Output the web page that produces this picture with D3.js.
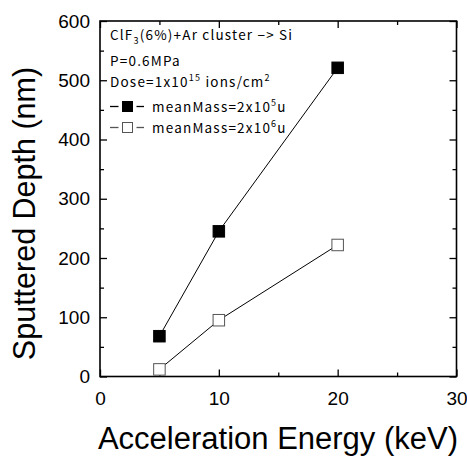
<!DOCTYPE html>
<html><head><meta charset="utf-8">
<script src="https://cdn.jsdelivr.net/npm/d3@7"></script>
<style>
body{margin:0;background:#fff;}
svg{display:block;}
</style></head>
<body>
<svg id="chart" width="467" height="456"></svg>
<script>
const energy = [5, 10, 20];
const depthMass2e5 = [68, 245, 521];
const depthMass2e6 = [12, 95, 222];
const xMajorTicks = [0, 10, 20, 30];
const xMinorTicks = [5, 15, 25];
const yMajorTicks = [0, 100, 200, 300, 400, 500, 600];
const yMinorTicks = [50, 150, 250, 350, 450, 550];

const svg = d3.select("#chart");
const L = 100, R = 456.5, T = 21, B = 376.5;
const x = d3.scaleLinear().domain([0, 30]).range([L, R]);
const y = d3.scaleLinear().domain([0, 600]).range([B, T]);
const tickFont = "Liberation Sans, Arial, sans-serif";

function styleAxis(g, labels) {
  g.select(".domain").remove();
  g.selectAll(".tick line").attr("stroke", "#000").attr("stroke-width", 1.3);
  if (!labels) g.selectAll(".tick text").remove();
  else g.selectAll(".tick text").attr("font-family", tickFont).attr("font-size", 19).attr("fill", "#000");
}
// bottom
svg.append("g").attr("transform", `translate(0,${B})`)
  .call(d3.axisBottom(x).tickValues(xMajorTicks).tickSizeInner(-7).tickSizeOuter(0).tickPadding(15).tickFormat(d3.format("d")))
  .call(g => styleAxis(g, true));
svg.append("g").attr("transform", `translate(0,${B})`)
  .call(d3.axisBottom(x).tickValues(xMinorTicks).tickSizeInner(-4).tickSizeOuter(0))
  .call(g => styleAxis(g, false));
// top
svg.append("g").attr("transform", `translate(0,${T})`)
  .call(d3.axisTop(x).tickValues(xMajorTicks).tickSizeInner(-7).tickSizeOuter(0))
  .call(g => styleAxis(g, false));
svg.append("g").attr("transform", `translate(0,${T})`)
  .call(d3.axisTop(x).tickValues(xMinorTicks).tickSizeInner(-4).tickSizeOuter(0))
  .call(g => styleAxis(g, false));
// left
svg.append("g").attr("transform", `translate(${L},0)`)
  .call(d3.axisLeft(y).tickValues(yMajorTicks).tickSizeInner(-7).tickSizeOuter(0).tickPadding(10).tickFormat(d3.format("d")))
  .call(g => styleAxis(g, true));
svg.append("g").attr("transform", `translate(${L},0)`)
  .call(d3.axisLeft(y).tickValues(yMinorTicks).tickSizeInner(-4).tickSizeOuter(0))
  .call(g => styleAxis(g, false));
// right
svg.append("g").attr("transform", `translate(${R},0)`)
  .call(d3.axisRight(y).tickValues(yMajorTicks).tickSizeInner(-7).tickSizeOuter(0))
  .call(g => styleAxis(g, false));
svg.append("g").attr("transform", `translate(${R},0)`)
  .call(d3.axisRight(y).tickValues(yMinorTicks).tickSizeInner(-4).tickSizeOuter(0))
  .call(g => styleAxis(g, false));

// frame
svg.append("rect").attr("x", L).attr("y", T).attr("width", R - L).attr("height", B - T)
  .attr("fill", "none").attr("stroke", "#000").attr("stroke-width", 1.6);

// axis titles
svg.append("text").attr("x", 278).attr("y", 449)
  .attr("text-anchor", "middle").attr("font-family", tickFont).attr("font-size", 31)
  .text("Acceleration Energy (keV)");
svg.append("text").attr("transform", "translate(35,213.5) rotate(-90)")
  .attr("text-anchor", "middle").attr("font-family", tickFont).attr("font-size", 30.5)
  .text("Sputtered Depth (nm)");

// series
const line = d3.line().x((d, i) => x(energy[i])).y(d => y(d));
const ms = 11.5;
function series(vals, filled) {
  svg.append("path").datum(vals).attr("d", line).attr("fill", "none").attr("stroke", "#000").attr("stroke-width", 1);
  svg.append("g").selectAll("rect").data(vals).join("rect")
    .attr("x", (d, i) => x(energy[i]) - ms / 2).attr("y", d => y(d) - ms / 2)
    .attr("width", ms).attr("height", ms)
    .attr("fill", filled ? "#000" : "#fff")
    .attr("stroke", filled ? "#000" : "#555").attr("stroke-width", 1);
}
series(depthMass2e5, true);
series(depthMass2e6, false);

// legend
const lf = "'Noto Sans CJK JP', sans-serif";
const lfs = 13.5;
function ltext(xp, yp) {
  return svg.append("text").attr("x", xp).attr("y", yp).attr("font-family", lf).attr("font-size", lfs)
    .attr("letter-spacing", 1.2).attr("fill", "#000");
}
let t1 = ltext(110, 40);
t1.append("tspan").text("ClF");
t1.append("tspan").attr("font-size", 9).attr("dy", 4).text("3");
t1.append("tspan").attr("dy", -4).text("(6%)+Ar cluster −> Si");
ltext(110, 66).text("P=0.6MPa");
let t3 = ltext(110, 86.5);
t3.append("tspan").text("Dose=1x10");
t3.append("tspan").attr("font-size", 9).attr("dy", -6).text("15");
t3.append("tspan").attr("dy", 6).text(" ions/cm");
t3.append("tspan").attr("font-size", 9).attr("dy", -6).text("2");

const legendItems = [
  {label: "meanMass=2x10", exp: "5", filled: true, yb: 111.5},
  {label: "meanMass=2x10", exp: "6", filled: false, yb: 132.5}
];
legendItems.forEach(it => {
  const cy = it.yb - 5;
  const col = it.filled ? "#000" : "#555";
  svg.append("line").attr("x1", 110).attr("x2", 118.5).attr("y1", cy).attr("y2", cy).attr("stroke", col).attr("stroke-width", 1.3);
  svg.append("line").attr("x1", 136.5).attr("x2", 144).attr("y1", cy).attr("y2", cy).attr("stroke", col).attr("stroke-width", 1.3);
  svg.append("rect").attr("x", 122.5).attr("y", cy - 5).attr("width", 10).attr("height", 10)
    .attr("fill", it.filled ? "#000" : "#fff").attr("stroke", col).attr("stroke-width", 1);
  const t = ltext(152, it.yb);
  t.append("tspan").text(it.label);
  t.append("tspan").attr("font-size", 9).attr("dy", -6).text(it.exp);
  t.append("tspan").attr("dy", 6).text("u");
});
</script>
</body></html>
